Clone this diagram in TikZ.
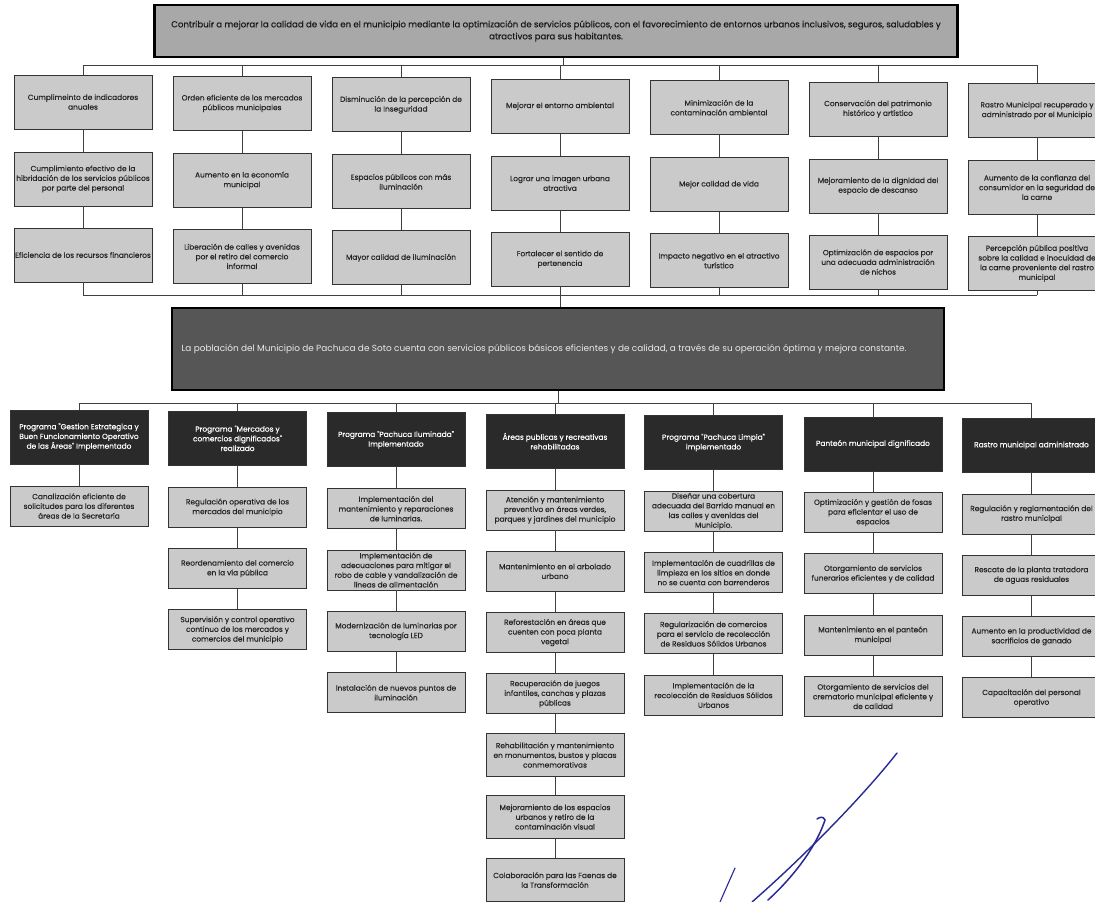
\documentclass[tikz,border=0pt]{standalone}
\usepackage{fontspec}
\setmainfont{Poppins}
\newfontfamily\medfont{Poppins}[FakeBold=0.4]
\definecolor{boxgray}{RGB}{202,202,202}
\definecolor{topgray}{RGB}{168,168,168}
\definecolor{midgray}{RGB}{86,86,86}
\definecolor{darkbox}{RGB}{42,42,42}
\definecolor{sigblue}{RGB}{40,40,150}
\begin{document}
\begin{tikzpicture}[x=1pt,y=-1pt,
  basebox/.style={draw=black!80, line width=0.9pt, inner sep=1pt, align=center,
    minimum width=138pt, font=\medfont\fontsize{7.4}{9.7}\selectfont},
  lbox/.style={basebox, fill=boxgray, minimum height=54pt, text=black!85},
  sbox/.style={basebox, fill=boxgray, minimum height=40pt, text=black!85},
  tbox/.style={basebox, fill=boxgray, minimum height=43pt, text=black!85},
  dbox/.style={basebox, fill=darkbox, minimum height=54pt, text=white},
  topbox/.style={draw=black, line width=2.2pt, fill=topgray, minimum width=803pt,
    minimum height=52pt, align=center, text=black!90, font=\medfont\fontsize{8.6}{12}\selectfont},
  midbox/.style={draw=black, line width=2.2pt, fill=midgray, minimum width=772pt,
    minimum height=82pt, align=center, text=white!92!black, font=\fontsize{8.9}{11}\selectfont},
  conn/.style={draw=black!75, line width=0.8pt},
  sig/.style={draw=sigblue, line cap=round, line width=1.3pt}]
\useasboundingbox (0,0) rectangle (1095,902);
\fill[white] (0,0) rectangle (1095,902);

% ---------- top ----------
\node[topbox] (top) at (556,31) {Contribuir a mejorar la calidad de vida en el municipio mediante la optimización de servicios públicos, con el favorecimiento de entornos urbanos inclusivos, seguros, saludables y\\atractivos para sus habitantes.};

% ---------- upper row 1 ----------
\node[lbox] (u11) at (83,102)    {Cumplimeinto de indicadores\\anuales};
\node[lbox] (u21) at (242,103.4) {Orden eficiente de los mercados\\públicos municipales};
\node[lbox] (u31) at (401,104.8) {Disminución de la percepción de\\la Inseguridad};
\node[lbox] (u41) at (560,106.2) {Mejorar el entorno ambiental};
\node[lbox] (u51) at (719,107.6) {Minimización de la\\contaminación ambiental};
\node[lbox] (u61) at (878,109)   {Conservación del patrimonio\\histórico y artístico};
\node[lbox] (u71) at (1037,110.4){Rastro Municipal recuperado y\\administrado por el Municipio};
% ---------- upper row 2 ----------
\node[lbox] (u12) at (83,179)    {Cumplimiento efectivo de la\\hibridación de los servicios públicos\\por parte del personal};
\node[lbox] (u22) at (242,180.4) {Aumento en la economía\\municipal};
\node[lbox] (u32) at (401,181.8) {Espacios públicos con más\\iluminación};
\node[lbox] (u42) at (560,183.2) {Lograr una imagen urbana\\atractiva};
\node[lbox] (u52) at (719,184.6) {Mejor calidad de vida};
\node[lbox] (u62) at (878,186)   {Mejoramiento de la dignidad del\\espacio de descanso};
\node[lbox] (u72) at (1037,187.4){Aumento de la confianza del\\consumidor en la seguridad de\\la carne};
% ---------- upper row 3 ----------
\node[lbox] (u13) at (83,255)    {Eficiencia de los recursos financieros};
\node[lbox] (u23) at (242,256.4) {Liberación de calles y avenidas\\por el retiro del comercio\\informal};
\node[lbox] (u33) at (401,257.8) {Mayor calidad de iluminación};
\node[lbox] (u43) at (560,259.2) {Fortalecer el sentido de\\pertenencia};
\node[lbox] (u53) at (719,260.6) {Impacto negativo en el atractivo\\turístico};
\node[lbox] (u63) at (878,262)   {Optimización de espacios por\\una adecuada administración\\de nichos};
\node[lbox] (u73) at (1037,263.4){Percepción pública positiva\\sobre la calidad e inocuidad de\\la carne proveniente del rastro\\municipal};

% ---------- middle ----------
\node[midbox] (mid) at (558,349) {La población del Municipio de Pachuca de Soto cuenta con servicios públicos básicos eficientes y de calidad, a través de su operación óptima y mejora constante.\hspace*{28pt}};

% ---------- dark row ----------
\node[dbox] (d1) at (79,437)     {Programa "Gestion Estrategica y\\Buen Funcionamiento Operativo\\de las Áreas" Implementado};
\node[dbox] (d2) at (237.5,438.4){Programa "Mercados y\\comercios dignificados"\\realizado};
\node[dbox] (d3) at (396,439.8)  {Programa "Pachuca Iluminada"\\Implementado};
\node[dbox] (d4) at (555,441.2)  {Áreas publicas y recreativas\\rehabilitadas};
\node[dbox] (d5) at (713.5,442.6){Programa "Pachuca Limpia"\\implementado};
\node[dbox] (d6) at (873,444)    {Panteón municipal dignificado};
\node[dbox] (d7) at (1031.5,445.4){Rastro municipal administrado};

% ---------- column 1 ----------
\node[sbox] (s11) at (79,506) {Canalización eficiente de\\solicitudes para los diferentes\\áreas de la Secretaría};
% ---------- column 2 ----------
\node[sbox] (s21) at (237.5,507.3) {Regulación operativa de los\\mercados del municipio};
\node[sbox] (s22) at (237.5,568.6) {Reordenamiento del comercio\\en la vía pública};
\node[sbox] (s23) at (237.5,629.9) {Supervisión y control operativo\\continuo de los mercados y\\comercios del municipio};
% ---------- column 3 ----------
\node[sbox] (s31) at (396,508.7) {Implementación del\\mantenimiento y reparaciones\\de luminarias.};
\node[sbox] (s32) at (396,570)   {Implementación de\\adecuaciones para mitigar el\\robo de cable y vandalización de\\líneas de alimentación};
\node[sbox] (s33) at (396,631.3) {Modernización de luminarias por\\tecnología LED};
\node[sbox] (s34) at (396,692.6) {Instalación de nuevos puntos de\\iluminación};
% ---------- column 4 ----------
\node[sbox] (s41) at (555,510)   {Atención y mantenimiento\\preventivo en áreas verdes,\\parques y jardines del municipio};
\node[sbox] (s42) at (555,571.3) {Mantenimiento en el arbolado\\urbano};
\node[sbox] (s43) at (555,632.6) {Reforestación en áreas que\\cuenten con poca planta\\vegetal};
\node[sbox] (s44) at (555,693.9) {Recuperación de juegos\\infantiles, canchas y plazas\\públicas};
\node[tbox] (s45) at (555,755)   {Rehabilitación y mantenimiento\\en monumentos, bustos y placas\\conmemorativas};
\node[tbox] (s46) at (555,817)   {Mejoramiento de los espacios\\urbanos y retiro de la\\contaminación visual};
\node[tbox] (s47) at (555,880)   {Colaboración para las Faenas de\\la Transformación};
% ---------- column 5 ----------
\node[sbox] (s51) at (713.5,511.3) {Diseñar una cobertura\\adecuada del Barrido manual en\\las calles y avenidas del\\Municipio.};
\node[sbox] (s52) at (713.5,572.6) {Implementación de cuadrillas de\\limpieza en los sitios en donde\\no se cuenta con barrenderos};
\node[sbox] (s53) at (713.5,633.9) {Regularización de comercios\\para el servicio de recolección\\de Residuos Sólidos Urbanos};
\node[sbox] (s54) at (713.5,695.2) {Implementación de la\\recolección de Residuos Sólidos\\Urbanos};
% ---------- column 6 ----------
\node[sbox] (s61) at (873,512.6) {Optimización y gestión de fosas\\para eficientar el uso de\\espacios};
\node[sbox] (s62) at (873,573.9) {Otorgamiento de servicios\\funerarios eficientes y de calidad};
\node[sbox] (s63) at (873,635.2) {Mantenimiento en el panteón\\municipal};
\node[sbox] (s64) at (873,696.5) {Otorgamiento de servicios del\\crematorio municipal eficiente y\\de calidad};
% ---------- column 7 ----------
\node[sbox] (s71) at (1031.5,514) {Regulación y reglamentación del\\rastro municipal};
\node[sbox] (s72) at (1031.5,575.3) {Rescate de la planta tratadora\\de aguas residuales};
\node[sbox] (s73) at (1031.5,636.6) {Aumento en la productividad de\\sacrificios de ganado};
\node[sbox] (s74) at (1031.5,697.9) {Capacitación del personal\\operativo};

% ---------- connectors: upper ----------
\coordinate (tb) at (563,65);
\draw[conn] (top.south -| tb) -- (tb);
\draw[conn] (u11.north |- tb) -- (u71.north |- tb);
\foreach \c in {1,...,7} {
  \draw[conn] (u\c1.north |- tb) -- (u\c1.north);
  \draw[conn] (u\c1.south) -- (u\c2.north);
  \draw[conn] (u\c2.south) -- (u\c3.north);
}
\coordinate (bb) at (560,295);
\foreach \c in {1,...,7} {\draw[conn] (u\c3.south) -- (u\c3.south |- bb);}
\draw[conn] (u13.south |- bb) -- (u73.south |- bb);
\draw[conn] (bb) -- (mid.north -| bb);

% ---------- connectors: lower ----------
\coordinate (lb) at (558,403);
\draw[conn] (mid.south -| lb) -- (lb);
\draw[conn] (d1.north |- lb) -- (d7.north |- lb);
\foreach \c in {1,...,7} {\draw[conn] (d\c.north |- lb) -- (d\c.north);}
\draw[conn] (d1.south) -- (s11.north);
\draw[conn] (d2.south) -- (s21.north);
\draw[conn] (s21) -- (s22) -- (s23);
\draw[conn] (d3.south) -- (s31.north);
\draw[conn] (s31) -- (s32) -- (s33) -- (s34);
\draw[conn] (d4.south) -- (s41.north);
\draw[conn] (s41) -- (s42) -- (s43) -- (s44) -- (s45) -- (s46) -- (s47);
\draw[conn] (d5.south) -- (s51.north);
\draw[conn] (s51) -- (s52) -- (s53) -- (s54);
\draw[conn] (d6.south) -- (s61.north);
\draw[conn] (s61) -- (s62) -- (s63) -- (s64);
\draw[conn] (d7.south) -- (s71.north);
\draw[conn] (s71) -- (s72) -- (s73) -- (s74);

% ---------- signature ----------
\draw[sig, line width=1.1pt] (720,902) -- (735,868);
\draw[sig, line width=1.4pt] (752,902) .. controls (800,860) and (860,800) .. (897,753);
\draw[sig, line width=1.5pt] (768,900) .. controls (790,880) and (815,850) .. (825,820) .. controls (823,816) and (820,817) .. (817,819);
\end{tikzpicture}
\end{document}
